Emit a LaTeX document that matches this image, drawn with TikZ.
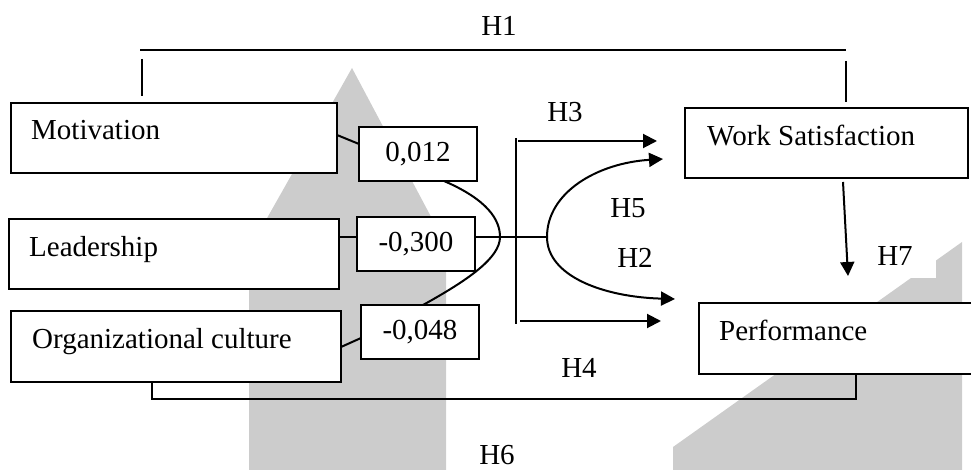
\documentclass[tikz,border=0pt]{standalone}
\usepackage{fontspec}
\setmainfont{Liberation Serif}
\usetikzlibrary{arrows.meta,calc}
\begin{document}
\begin{tikzpicture}[x=1pt,y=-1pt,
  font=\fontsize{29}{34}\selectfont,
  box/.style={draw, fill=white, line width=1.3pt, inner sep=0pt, outer sep=0pt, anchor=north west},
  txt/.style={anchor=base west, inner sep=0pt},
  hyp/.style={inner sep=0pt},
  conn/.style={line width=2pt},
  arr/.style={line width=2pt, -{Triangle[length=14pt,width=14pt]}},
  wm/.style={fill=gray!40, draw=none}]
\useasboundingbox (0,0) rectangle (971,470);
% watermark
\fill[wm] (352,68) -- (446,245) -- (446,470) -- (249,470) -- (249,250) -- cycle;
\fill[wm] (962,242) -- (962,470) -- (673,470) -- (673,447) -- (911,278) -- (936,278) -- (936,260.5) -- cycle;
% boxes
\node[box, minimum width=326pt, minimum height=70pt] (mot) at (11,103) {};
\node[box, minimum width=330pt, minimum height=70pt] (lead) at (9,219) {};
\node[box, minimum width=330pt, minimum height=71pt] (org) at (11,311) {};
\node[box, minimum width=283pt, minimum height=70pt] (ws) at (685,108) {};
\node[box, minimum width=280pt, minimum height=71pt] (perf) at (699,303) {};
\node[txt] (tmot) at (31,140) {Motivation};
\node[txt] (tlead) at (29,257) {Leadership};
\node[txt] (torg) at (32,348) {Organizational culture};
\node[txt] (tws) at (707,146) {Work Satisfaction};
\node[txt] (tperf) at (719,340) {Performance};
\node[box, minimum width=118pt, minimum height=54pt] (v1) at (359,127) {};
\node[box, minimum width=118pt, minimum height=54pt] (v2) at (357,217) {};
\node[box, minimum width=118pt, minimum height=54pt] (v3) at (361,305) {};
\node[hyp] (tv1) at (v1.center) {0,012};
\node[hyp] (tv2) at (v2.center) {-0,300};
\node[hyp] (tv3) at (v3.center) {-0,048};
% coordinates
\coordinate (apexL) at (500,237);
\coordinate (apexR) at (547,237);
\coordinate (barT) at (516,138);
\coordinate (barB) at (516,324);
\coordinate (h3s) at (518,141);
\coordinate (h3e) at (657,141);
\coordinate (h4s) at (520,321);
\coordinate (h4e) at (661,321);
\coordinate (h5e) at (663,159);
\coordinate (h2e) at (675,299);
\coordinate (h1a) at (140,50);
\coordinate (h1b) at (846,50);
\coordinate (h6a) at (152,399);
\coordinate (h6b) at (856,399);
% connectors
\draw[conn] ($(mot.north east)+(0,32)$) -- ($(v1.north west)+(0,17)$);
\draw[conn] ($(lead.north east)+(0,18)$) -- ($(v2.north west)+(0,20)$);
\draw[conn] ($(org.north east)+(0,36)$) -- ($(v3.north west)+(0,33)$);
\draw[conn] ($(v2.north east)+(0,20)$) -- (apexR);
\draw[conn] ($(v1.south west)+(85,0)$) .. controls (488,200) and (500,220) .. (apexL)
   .. controls (500,258) and (468,280) .. ($(v3.north west)+(62,0)$);
\draw[conn] (barT) -- (barB);
\draw[arr] (h3s) -- (h3e);
\draw[arr] (h4s) -- (h4e);
\draw[arr] (apexR) .. controls (547,192) and (598,163) .. (h5e);
\draw[arr] (apexR) .. controls (547,276) and (603,297) .. (h2e);
\draw[conn] (h1a) -- (h1b);
\draw[conn] ($(mot.north west)+(131,-44)$) -- ($(mot.north west)+(131,-7)$);
\draw[conn] ($(ws.north west)+(161,-47)$) -- ($(ws.north west)+(161,-6)$);
\draw[conn] ($(org.south west)+(141,0)$) -- (h6a) -- (h6b) -- ($(perf.south west)+(157,0)$);
\draw[arr] ($(ws.south west)+(158,4)$) -- ($(perf.north west)+(149,-27)$);
% labels
\node[hyp] (H1) at (499,26) {H1};
\node[hyp] (H3) at (565,112) {H3};
\node[hyp] (H5) at (628,208) {H5};
\node[hyp] (H2) at (635,258) {H2};
\node[hyp] (H7) at (895,256) {H7};
\node[hyp] (H4) at (579,368) {H4};
\node[hyp] (H6) at (497,455) {H6};
\end{tikzpicture}
\end{document}
